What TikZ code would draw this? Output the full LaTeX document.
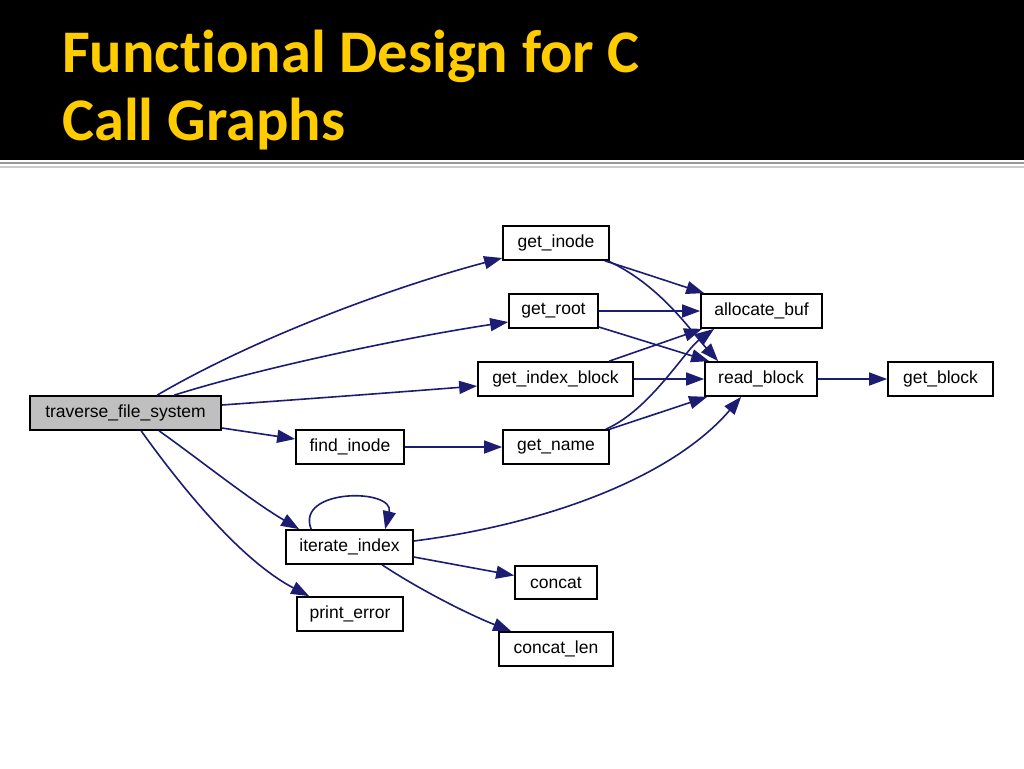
\documentclass[tikz,border=0pt]{standalone}
\usepackage{fontspec}
\setmainfont{Liberation Sans}
\newfontfamily\titlefont[Ligatures=NoCommon]{Carlito}
\usetikzlibrary{arrows.meta}
\definecolor{edgeblue}{RGB}{28,28,115}
\definecolor{titleyellow}{RGB}{255,204,0}
\definecolor{rootgray}{RGB}{191,191,191}
\begin{document}
\begin{tikzpicture}[x=1pt,y=-1pt,
  fn/.style={draw=black,line width=1.7pt,rectangle,minimum height=34pt,inner sep=0pt,font=\fontsize{17.5}{19}\selectfont,fill=white},
  call/.style={draw=edgeblue,line width=1.6pt,-{Triangle[length=18pt,width=13pt]}},
  title/.style={anchor=base west,text=titleyellow,inner sep=0pt,font=\titlefont\bfseries\fontsize{60.5}{61}\selectfont}
]
\useasboundingbox (0,0) rectangle (1024,768);
\fill[white] (0,0) rectangle (1024,768);
\fill[black] (0,0) rectangle (1024,160);
\draw[line width=2pt,gray!80] (0,162.5) -- (1024,162.5);
\draw[line width=1.5pt,gray!40] (0,167) -- (1024,167);
\node[title] (t1) at (62,72) {Functional Design for C};
\node[title] (t2) at (62,140) {Call Graphs};

\node[fn,fill=rootgray,minimum width=191pt] (tfs) at (125.5,413) {traverse\_file\_system};
\node[fn,minimum width=106pt] (gi) at (556,243) {get\_inode};
\node[fn,minimum width=89pt] (gr) at (553.5,311) {get\_root};
\node[fn,minimum width=121pt] (ab) at (761.5,311) {allocate\_buf};
\node[fn,minimum width=155pt] (gib) at (555.5,379) {get\_index\_block};
\node[fn,minimum width=112pt] (rb) at (761,379) {read\_block};
\node[fn,minimum width=105pt] (gb) at (940.5,379) {get\_block};
\node[fn,minimum width=108pt] (fi) at (350,447) {find\_inode};
\node[fn,minimum width=106pt] (gn) at (556,447) {get\_name};
\node[fn,minimum width=127pt] (ii) at (349.5,547) {iterate\_index};
\node[fn,minimum width=82pt,minimum height=33pt] (cc) at (556,582.5) {concat};
\node[fn,minimum width=106pt] (pe) at (350,614) {print\_error};
\node[fn,minimum width=114pt] (cl) at (556,649) {concat\_len};

\draw[call] ([xshift=128pt]tfs.north west) .. controls (260,335) and (400,285) .. ([yshift=-15pt]gi.west);
\draw[call] ([xshift=145pt]tfs.north west) .. controls (270,365) and (420,335) .. ([yshift=-11pt]gr.west);
\draw[call] ([yshift=8pt]tfs.east) .. controls (320,398) and (400,392) .. ([yshift=-7pt]gib.west);
\draw[call] ([yshift=-15pt]tfs.east) -- ([yshift=8pt]fi.west);
\draw[call] ([xshift=130pt]tfs.south west) .. controls (200,460) and (250,500) .. ([xshift=14pt]ii.north west);
\draw[call] ([xshift=112pt]tfs.south west) .. controls (180,485) and (240,560) .. ([xshift=13pt]pe.north west);
\draw[call] ([xshift=-5pt]gi.south east) .. controls (640,272) and (670,282) .. ([xshift=4pt]ab.north west);
\draw[call] ([xshift=-2pt]gi.south east) .. controls (660,285) and (690,330) .. ([xshift=14pt]rb.north west);
\draw[call] (gr.east) -- (ab.west);
\draw[call] ([yshift=-16pt]gr.east) -- ([xshift=5pt]rb.north west);
\draw[call] ([xshift=132pt]gib.north west) -- ([xshift=2pt]ab.south west);
\draw[call] (gib.east) -- (rb.west);
\draw[call] ([xshift=-4pt]gn.north east) .. controls (650,410) and (685,350) .. ([xshift=14pt]ab.south west);
\draw[call] (gn.north east) -- ([xshift=3pt]rb.south west);
\draw[call] ([yshift=6pt]ii.east) .. controls (540,525) and (670,480) .. ([xshift=37pt]rb.south west);
\draw[call] (fi.east) -- (gn.west);
\draw[call] (rb.east) -- (gb.west);
\draw[call] ([xshift=26pt]ii.north west) .. controls (295,488) and (395,488) .. ([xshift=100pt]ii.north west);
\draw[call] ([yshift=-10pt]ii.east) -- ([yshift=7pt]cc.west);
\draw[call] ([xshift=97pt]ii.south west) .. controls (420,590) and (470,615) .. ([xshift=13pt]cl.north west);
\end{tikzpicture}
\end{document}
